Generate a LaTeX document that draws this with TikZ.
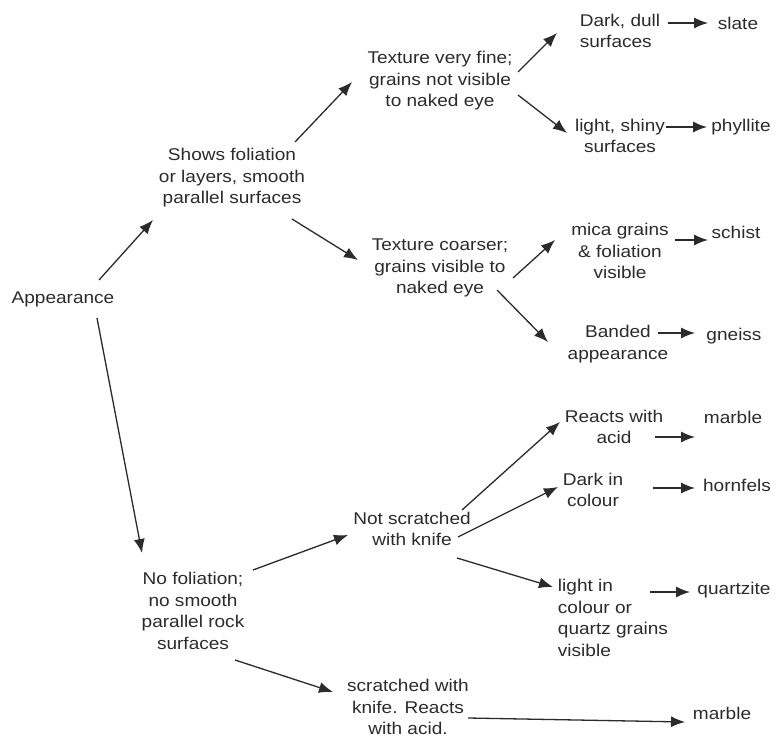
\documentclass[tikz,border=0pt]{standalone}
\usepackage{fontspec}
\setmainfont{Liberation Sans}[FakeStretch=1.12]
\usetikzlibrary{arrows.meta}
\definecolor{ink}{HTML}{2B2B2B}
\tikzset{
  lbl/.style={font=\fontsize{17}{21.5}\selectfont, align=center, inner sep=0pt, text=ink},
  lblL/.style={lbl, align=left},
  arr/.style={draw=ink, line width=1.3pt, -{Latex[length=14pt,width=11pt]}}
}
\begin{document}
\begin{tikzpicture}[x=1pt,y=-1pt]
\useasboundingbox[fill=white] (0,0) rectangle (776,738);
% nodes
\node[lbl] (app) at (63,299) {Appearance};
\node[lbl] (shows) at (232,178) {Shows foliation\\or layers, smooth\\parallel surfaces};
\node[lbl] (tfine) at (440,81) {Texture very fine;\\grains not visible\\to naked eye};
\node[lbl] (tcoarse) at (440,268) {Texture coarser;\\grains visible to\\naked eye};
\node[lblL] (dark) at (620,31) {Dark, dull\\surfaces};
\node[lbl] (slate) at (738,23) {slate};
\node[lbl] (light) at (620,136) {light, shiny\\surfaces};
\node[lbl] (phyl) at (741,127) {phyllite};
\node[lbl] (mica) at (620,251) {mica grains\\\& foliation\\visible};
\node[lbl] (schist) at (736,232) {schist};
\node[lbl] (banded) at (618,344) {Banded\\appearance};
\node[lbl] (gneiss) at (734,336) {gneiss};
\node[lbl] (nofol) at (193,611) {No foliation;\\no smooth\\parallel rock\\surfaces};
\node[lbl] (notscr) at (412,529) {Not scratched\\with knife};
\node[lbl] (reacts) at (614,427) {Reacts with\\acid};
\node[lbl] (marbleA) at (733,417) {marble};
\node[lbl] (darkin) at (593,490) {Dark in\\colour};
\node[lbl] (hornfels) at (737,485) {hornfels};
\node[lblL] (lightin) at (613,618) {light in\\colour or\\quartz grains\\visible};
\node[lbl] (quartzite) at (734,590) {quartzite};
\node[lbl] (scr) at (408,707) {scratched with\\knife. Reacts\\with acid.};
\node[lbl] (marbleB) at (722,713) {marble};
% connectors
\draw[arr] ([shift={(36,-19)}]app.center) -- ([shift={(-79,42)}]shows.center);
\draw[arr] ([shift={(34,19)}]app.center) -- ([shift={(-51,-58)}]nofol.center);
\draw[arr] ([shift={(63,-36)}]shows.center) -- ([shift={(-88,1)}]tfine.center);
\draw[arr] ([shift={(60,41)}]shows.center) -- ([shift={(-82,-8)}]tcoarse.center);
\draw[arr] ([shift={(78,-9)}]tfine.center) -- ([shift={(-63,2)}]dark.center);
\draw[arr] ([shift={(78,14)}]tfine.center) -- ([shift={(-53,-3)}]light.center);
\draw[arr] ([shift={(48,-8)}]dark.center) -- ([shift={(-30,0)}]slate.center);
\draw[arr] ([shift={(46,-9)}]light.center) -- ([shift={(-34,0)}]phyl.center);
\draw[arr] ([shift={(73,10)}]tcoarse.center) -- ([shift={(-65,-11)}]mica.center);
\draw[arr] ([shift={(57,22)}]tcoarse.center) -- ([shift={(-70,-2)}]banded.center);
\draw[arr] ([shift={(55,-11)}]mica.center) -- ([shift={(-28,8)}]schist.center);
\draw[arr] ([shift={(40,-11)}]banded.center) -- ([shift={(-39,-3)}]gneiss.center);
\draw[arr] ([shift={(60,-41)}]nofol.center) -- ([shift={(-64,6)}]notscr.center);
\draw[arr] ([shift={(42,49)}]nofol.center) -- ([shift={(-75,-15)}]scr.center);
\draw[arr] ([shift={(50,-19)}]notscr.center) -- ([shift={(-54,-5)}]reacts.center);
\draw[arr] ([shift={(46,8)}]notscr.center) -- ([shift={(-35,-3)}]darkin.center);
\draw[arr] ([shift={(45,29)}]notscr.center) -- ([shift={(-60,-31)}]lightin.center);
\draw[arr] ([shift={(41,10)}]reacts.center) -- ([shift={(-38,20)}]marbleA.center);
\draw[arr] ([shift={(60,-2)}]darkin.center) -- ([shift={(-42,3)}]hornfels.center);
\draw[arr] ([shift={(37,-26)}]lightin.center) -- ([shift={(-44,2)}]quartzite.center);
\draw[arr] ([shift={(60,11)}]scr.center) -- ([shift={(-37,9)}]marbleB.center);
\end{tikzpicture}
\end{document}
